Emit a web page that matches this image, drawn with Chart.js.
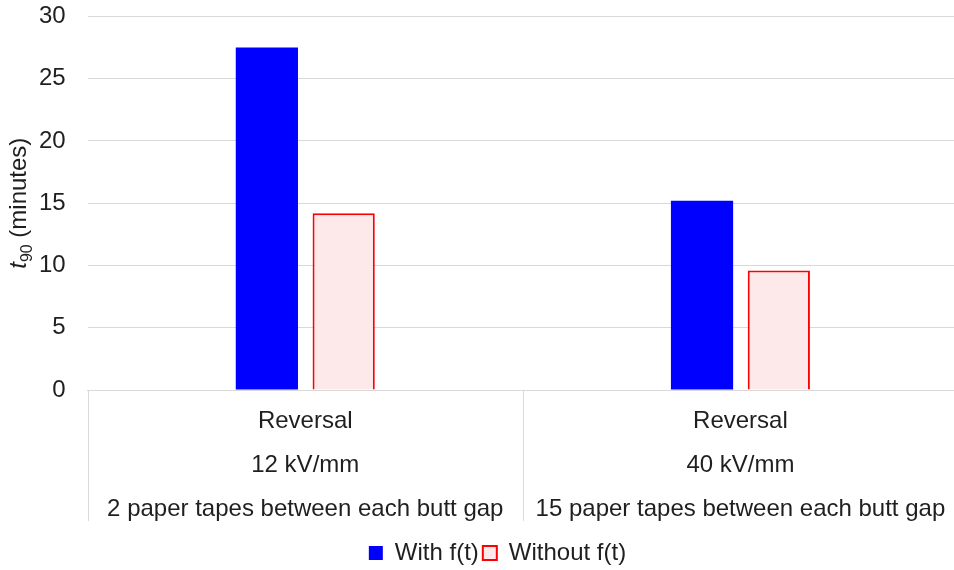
<!DOCTYPE html>
<html lang="en">
<head>
    <meta charset="UTF-8">
    <title>t90 by test condition</title>
    <script src="https://cdn.jsdelivr.net/npm/chart.js"></script>
    <style>
        body {
            margin: 0;
            padding: 0;
            overflow: hidden;
            background-color: #ffffff;
        }

        #chart-box {
            width: 958px;
            height: 570px;
        }
    </style>
</head>
<body>
    <div id="chart-box">
        <canvas id="t90Chart"></canvas>
    </div>

    <script>
        // Test conditions, one label line per array entry
        const categories = [
            ['Reversal', '12 kV/mm', '2 paper tapes between each butt gap'],
            ['Reversal', '40 kV/mm', '15 paper tapes between each butt gap']
        ];
        const withFt = [27.5, 15.2];
        const withoutFt = [14.2, 9.6];
        const yTicks = [0, 5, 10, 15, 20, 25, 30];

        const textColor = '#1f1f1f';
        const gridColor = '#d9d9d9';
        const fontFamily = 'Arial, "Liberation Sans", Helvetica, sans-serif';

        // Vertical separators between the category blocks under the plot
        const categorySeparators = {
            id: 'categorySeparators',
            afterDraw(chart) {
                const x = chart.scales.x;
                const ctx = chart.ctx;
                const n = categories.length;
                const step = (x.right - x.left) / n;
                ctx.save();
                ctx.strokeStyle = gridColor;
                ctx.lineWidth = 1;
                for (let i = 0; i < n; i++) {
                    const px = Math.round(x.left + step * i) + 0.5;
                    ctx.beginPath();
                    ctx.moveTo(px, x.top);
                    ctx.lineTo(px, x.top + 131);
                    ctx.stroke();
                }
                ctx.restore();
            }
        };

        // Push the legend a little lower, closer to the bottom edge
        const legendNudge = {
            id: 'legendNudge',
            afterLayout(chart) {
                if (chart.legend) {
                    chart.legend.top += 5;
                    chart.legend.bottom += 5;
                }
            }
        };

        // Y axis title with italic t and subscript 90
        const yTitle = {
            id: 'yTitle',
            afterDraw(chart) {
                const area = chart.chartArea;
                const ctx = chart.ctx;
                const parts = [
                    { text: 't', font: 'italic 24px ' + fontFamily, dy: 0 },
                    { text: '90', font: '16px ' + fontFamily, dy: 6 },
                    { text: ' (minutes)', font: '24px ' + fontFamily, dy: 0 }
                ];
                ctx.save();
                let total = 0;
                parts.forEach(p => {
                    ctx.font = p.font;
                    p.w = ctx.measureText(p.text).width;
                    total += p.w;
                });
                ctx.translate(26, (area.top + area.bottom) / 2);
                ctx.rotate(-Math.PI / 2);
                ctx.fillStyle = textColor;
                ctx.textBaseline = 'alphabetic';
                let cx = -total / 2;
                parts.forEach(p => {
                    ctx.font = p.font;
                    ctx.fillText(p.text, cx, p.dy);
                    cx += p.w;
                });
                ctx.restore();
            }
        };

        const ctx = document.getElementById('t90Chart').getContext('2d');
        new Chart(ctx, {
            type: 'bar',
            data: {
                labels: categories,
                datasets: [{
                    label: 'With f(t)',
                    data: withFt,
                    backgroundColor: '#0000ff',
                    borderColor: '#0000ff',
                    borderWidth: 0,
                    categoryPercentage: 0.353,
                    barPercentage: 0.81
                }, {
                    label: 'Without f(t)',
                    data: withoutFt,
                    backgroundColor: '#fde9e9',
                    borderColor: '#ff0000',
                    borderWidth: 2,
                    categoryPercentage: 0.353,
                    barPercentage: 0.81
                }]
            },
            options: {
                responsive: true,
                maintainAspectRatio: false,
                animation: false,
                layout: {
                    padding: { left: 37, right: 0, top: 1, bottom: 0 }
                },
                plugins: {
                    legend: {
                        position: 'bottom',
                        labels: {
                            boxWidth: 14,
                            boxHeight: 14,
                            padding: 4,
                            color: textColor,
                            font: { family: fontFamily, size: 24 }
                        }
                    },
                    tooltip: { enabled: false }
                },
                scales: {
                    x: {
                        grid: { display: false },
                        border: { display: true, color: gridColor },
                        ticks: {
                            color: textColor,
                            padding: 1,
                            maxRotation: 0,
                            autoSkip: false,
                            font: { family: fontFamily, size: 24, lineHeight: 1.833 }
                        }
                    },
                    y: {
                        min: 0,
                        max: 30,
                        afterBuildTicks(axis) {
                            axis.ticks = yTicks.map(v => ({ value: v }));
                        },
                        grid: {
                            color: gridColor,
                            drawTicks: true,
                            tickLength: 20,
                            tickColor: 'rgba(0,0,0,0)'
                        },
                        border: { display: false },
                        ticks: {
                            color: textColor,
                            padding: 2,
                            font: { family: fontFamily, size: 24 }
                        }
                    }
                }
            },
            plugins: [categorySeparators, legendNudge, yTitle]
        });
    </script>
</body>
</html>
